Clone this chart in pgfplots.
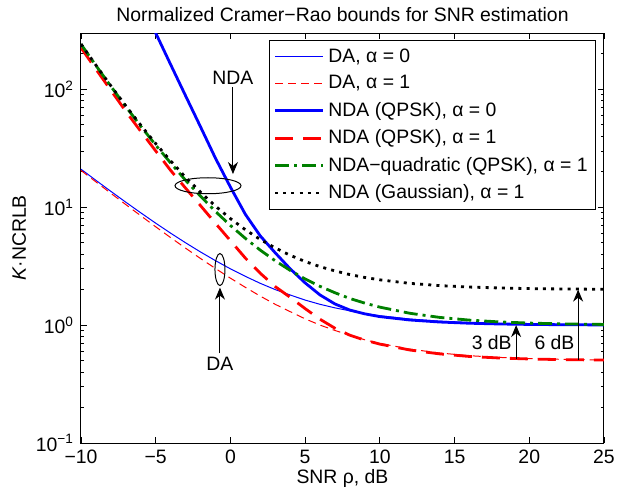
\documentclass[border=0pt]{standalone}
\usepackage{fontspec}
\setmainfont{Liberation Sans}
\usepackage{pgfplots}
\pgfplotsset{compat=1.18}
\usetikzlibrary{arrows.meta}

\definecolor{mgreen}{rgb}{0,0.5,0}

\begin{document}
\begin{tikzpicture}
\begin{axis}[
  scale only axis, width=261.5pt, height=205pt,
  ymode=log, xmin=-10, xmax=25, ymin=0.1, ymax=300,
  font=\fontsize{9.7}{11}\selectfont,
  xtick={-10,-5,0,5,10,15,20,25},
  xticklabels={−10,−5,0,5,10,15,20,25},
  ytick={0.1,1,10,100},
  yticklabels={10\textsuperscript{−1},10\textsuperscript{0},10\textsuperscript{1},10\textsuperscript{2}},
  minor ytick={0.2,0.3,0.4,0.5,0.6,0.7,0.8,0.9,2,3,4,5,6,7,8,9,20,30,40,50,60,70,80,90,200,300},
  major tick length=2.8pt, minor tick length=1.6pt,
  tick style={black, line width=0.4pt},
  axis line style={line width=0.5pt},
  title={Normalized Cramer−Rao bounds for SNR estimation},
  title style={yshift=-4pt},
  xlabel={SNR ρ, dB},
  xlabel style={yshift=4pt},
  ylabel={\textit{K}·NCRLB},
  ylabel style={yshift=-2pt},
  legend cell align=left,
  legend style={at={(rel axis cs:0.985,0.983)}, anchor=north east,
    line width=0.5pt, font=\fontsize{9.7}{11}\selectfont,
    row sep=1.2pt, inner sep=2pt},
  legend image code/.code={\draw[#1] (0pt,0pt) -- (24pt,0pt);},
]
% DA, alpha = 0
\addplot[color=blue, line width=0.5pt] coordinates {
(-10,21)(-9,16.89)(-8,13.62)(-7,11.02)(-6,8.96)(-5,7.32)(-4,6.02)(-3,4.99)(-2,4.17)(-1,3.52)
(0,3)(1,2.59)(2,2.26)(3,2.0)(4,1.80)(5,1.63)(6,1.50)(7,1.40)(8,1.32)(9,1.25)
(10,1.2)(12,1.126)(14,1.08)(16,1.05)(18,1.032)(20,1.02)(22,1.013)(25,1.006)};
\addlegendentry{DA, α = 0}
% DA, alpha = 1
\addplot[color=red, line width=0.5pt, dash pattern=on 4pt off 2.5pt] coordinates {
(-10,20.5)(-9,16.39)(-8,13.12)(-7,10.52)(-6,8.46)(-5,6.82)(-4,5.52)(-3,4.49)(-2,3.67)(-1,3.02)
(0,2.5)(1,2.09)(2,1.76)(3,1.50)(4,1.30)(5,1.13)(6,1.0)(7,0.90)(8,0.82)(9,0.75)
(10,0.7)(12,0.626)(14,0.58)(16,0.55)(18,0.532)(20,0.52)(22,0.513)(25,0.506)};
\addlegendentry{DA, α = 1}
% NDA (QPSK), alpha = 0
\addplot[color=blue, line width=1.4pt] coordinates {
(-5.3,380)(-5,300)(-4,162)(-3,88)(-2,48)(-1,26)
(0,14.8)(1,8.7)(2,5.7)(3,4.1)(4,3.0)(5,2.28)(6,1.8)(7,1.51)(8,1.34)(9,1.245)
(10,1.18)(12,1.105)(14,1.062)(16,1.037)(18,1.022)(20,1.013)(22,1.008)(25,1.003)};
\addlegendentry{NDA (QPSK), α = 0}
% NDA (QPSK), alpha = 1
\addplot[color=red, line width=1.4pt, dash pattern=on 9pt off 5pt] coordinates {
(-10,225)(-9,148)(-8,98)(-7,65)(-6,44)(-5,30)(-4,20.5)(-3,14.5)(-2,10.3)(-1,7.3)
(0,5.2)(1,3.7)(2,2.75)(3,2.12)(4,1.72)(5,1.38)(6,1.12)(7,0.94)(8,0.82)(9,0.745)
(10,0.69)(12,0.615)(14,0.57)(16,0.542)(18,0.526)(20,0.516)(22,0.51)(25,0.505)};
\addlegendentry{NDA (QPSK), α = 1}
% NDA-quadratic (QPSK), alpha = 1
\addplot[color=mgreen, line width=1.4pt, dash pattern=on 7pt off 2.5pt on 1.5pt off 2.5pt] coordinates {
(-10,241)(-9,159)(-8,105.9)(-7,71.3)(-6,48.6)(-5,33.6)(-4,23.7)(-3,16.9)(-2,12.4)(-1,9.2)
(0,7)(1,5.44)(2,4.32)(3,3.51)(4,2.91)(5,2.46)(6,2.13)(7,1.88)(8,1.68)(9,1.535)
(10,1.42)(12,1.26)(14,1.162)(16,1.102)(18,1.064)(20,1.04)(22,1.025)(25,1.013)};
\addlegendentry{NDA−quadratic (QPSK), α = 1}
% NDA (Gaussian), alpha = 1
\addplot[color=black, line width=1.4pt, dash pattern=on 1.5pt off 2.6pt] coordinates {
(-10,242)(-9,160)(-8,106.9)(-7,72.3)(-6,49.6)(-5,34.6)(-4,24.7)(-3,17.9)(-2,13.4)(-1,10.2)
(0,8)(1,6.44)(2,5.32)(3,4.51)(4,3.91)(5,3.46)(6,3.13)(7,2.88)(8,2.68)(9,2.535)
(10,2.42)(12,2.26)(14,2.162)(16,2.102)(18,2.064)(20,2.04)(22,2.025)(25,2.013)};
\addlegendentry{NDA (Gaussian), α = 1}

% annotations
\draw[line width=0.5pt] (axis cs:-1.5,15.2) ellipse [x radius=16.5pt, y radius=4pt];
\draw[line width=0.5pt, -{Stealth[length=6pt,width=5pt]}] (axis cs:0.17,104) -- (axis cs:0.17,19.1);
\node[anchor=south, inner sep=0.5pt] at (axis cs:0.17,106) {NDA};
\draw[line width=0.5pt] (axis cs:-0.7,2.96) ellipse [x radius=2.5pt, y radius=8pt];
\draw[line width=0.5pt, -{Stealth[length=6pt,width=5pt]}] (axis cs:-0.7,0.577) -- (axis cs:-0.7,2.08);
\node[anchor=north, inner sep=1pt] at (axis cs:-0.7,0.56) {DA};
\draw[line width=0.5pt, -{Stealth[length=6pt,width=5pt]}] (axis cs:19.12,0.513) -- (axis cs:19.12,1.0);
\node[anchor=east, inner sep=0pt] at (axis cs:18.85,0.714) {3 dB};
\draw[line width=0.5pt, -{Stealth[length=6pt,width=5pt]}] (axis cs:23.27,0.505) -- (axis cs:23.27,2.0);
\node[anchor=east, inner sep=0pt] at (axis cs:23.05,0.714) {6 dB};
\end{axis}
\path (current axis.south west) ++(-40.5pt,-26pt) rectangle ++(317pt,247.5pt);
\end{tikzpicture}
\end{document}
